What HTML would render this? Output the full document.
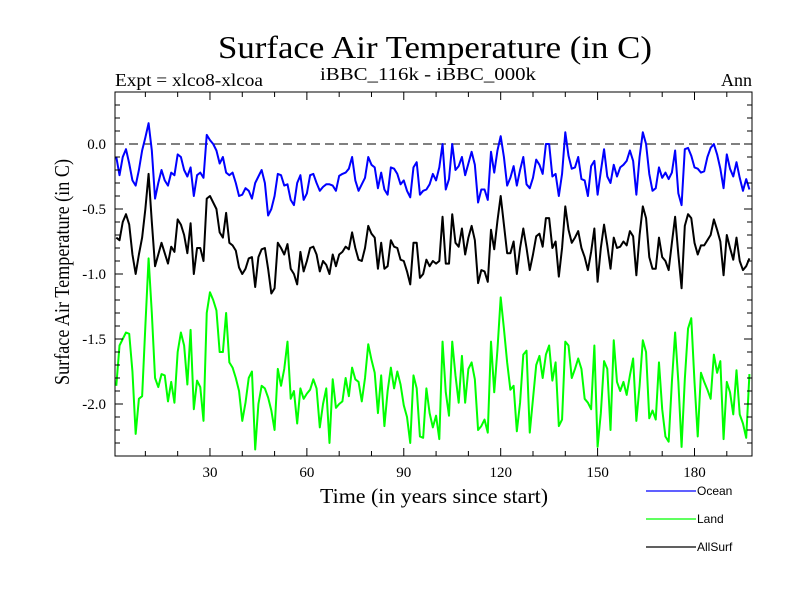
<!DOCTYPE html>
<html><head><meta charset="utf-8"><style>
html,body{margin:0;padding:0;background:#fff;}
svg{display:block;}
</style></head><body>
<svg id="chart" width="800" height="600" xmlns="http://www.w3.org/2000/svg" font-family="'Liberation Serif', serif">
<rect width="800" height="600" fill="#fff"/>
<text x="435" y="58" font-size="32" text-anchor="middle" textLength="434" lengthAdjust="spacingAndGlyphs">Surface Air Temperature (in C)</text>
<text x="115" y="86" font-size="18" textLength="148" lengthAdjust="spacingAndGlyphs">Expt = xlco8-xlcoa</text>
<text x="428" y="80" font-size="18" text-anchor="middle" textLength="216" lengthAdjust="spacingAndGlyphs">iBBC_116k - iBBC_000k</text>
<text x="752" y="86" font-size="18" text-anchor="end">Ann</text>
<text x="0" y="0" font-size="21" text-anchor="middle" transform="translate(69,272) rotate(-90)" textLength="226" lengthAdjust="spacingAndGlyphs">Surface Air Temperature (in C)</text>
<text x="434" y="503" font-size="21" text-anchor="middle" textLength="228" lengthAdjust="spacingAndGlyphs">Time (in years since start)</text>
<g id="plot"></g>
<g id="legend" font-family="'Liberation Sans', sans-serif" font-size="12"></g>
</svg>
<script>
const ocean = [-0.10,-0.24,-0.10,-0.04,-0.15,-0.28,-0.32,-0.2,-0.05,0.05,0.16,-0.05,-0.42,-0.3,-0.2,-0.28,-0.32,-0.22,-0.24,-0.08,-0.1,-0.2,-0.25,-0.18,-0.4,-0.24,-0.22,-0.26,0.07,0.03,0.0,-0.05,-0.15,
-0.1,-0.22,-0.24,-0.22,-0.3,-0.4,-0.39,-0.34,-0.36,-0.42,-0.3,-0.25,-0.2,-0.3,-0.55,-0.5,-0.4,-0.23,-0.24,-0.32,-0.31,-0.43,-0.47,-0.3,-0.24,-0.43,-0.38,-0.24,-0.23,-0.3,-0.36,-0.33,
-0.31,-0.31,-0.32,-0.36,-0.245,-0.23,-0.22,-0.19,-0.10,-0.28,-0.36,-0.31,-0.26,-0.10,-0.16,-0.18,-0.34,-0.22,-0.35,-0.39,-0.18,-0.19,-0.23,-0.31,-0.28,-0.36,-0.41,-0.18,-0.14,-0.39,-0.36,-0.35,
-0.31,-0.23,-0.28,-0.18,0.0,-0.35,-0.27,0.0,-0.2,-0.17,-0.1,-0.24,-0.15,-0.06,-0.16,-0.45,-0.35,-0.35,-0.43,-0.06,-0.22,-0.05,0.06,-0.1,-0.32,-0.26,-0.17,-0.32,-0.2,-0.1,-0.31,
-0.34,-0.26,-0.12,-0.16,-0.23,0.0,0.0,-0.25,-0.23,-0.4,-0.23,0.09,-0.09,-0.19,-0.18,-0.1,-0.27,-0.28,-0.4,-0.17,-0.13,-0.39,-0.21,-0.04,-0.25,-0.3,-0.16,-0.25,-0.18,-0.16,-0.13,-0.05,-0.13,-0.39,
-0.1,0.09,0.0,-0.23,-0.36,-0.34,-0.18,-0.26,-0.22,-0.27,-0.22,-0.05,-0.38,-0.47,-0.04,-0.03,-0.09,-0.18,-0.19,-0.22,-0.21,-0.1,-0.03,0.0,-0.08,-0.19,-0.34,-0.08,-0.19,-0.25,-0.14,-0.26,-0.36,-0.27,-0.35];
const land = [-1.86,-1.55,-1.5,-1.45,-1.46,-1.75,-2.23,-1.96,-1.94,-1.4,-0.88,-1.3,-1.8,-1.87,-1.77,-1.78,-1.98,-1.83,-1.99,-1.6,-1.45,-1.55,-1.85,-1.43,-2.04,-1.82,-1.87,-2.13,-1.3,-1.14,-1.2,-1.28,-1.6,
-1.6,-1.3,-1.68,-1.72,-1.8,-1.9,-2.13,-1.99,-1.8,-1.75,-2.35,-2.0,-1.86,-1.88,-1.95,-2.05,-2.2,-1.73,-1.86,-1.73,-1.52,-1.96,-1.9,-2.15,-1.88,-1.96,-1.92,-1.89,-1.81,-1.88,-2.18,-2.0,
-1.88,-2.3,-1.81,-2.03,-2.0,-1.98,-1.8,-1.94,-1.72,-1.81,-1.83,-1.98,-1.8,-1.54,-1.66,-1.76,-2.07,-1.78,-2.17,-1.9,-1.72,-1.88,-1.75,-1.85,-2.01,-2.1,-2.3,-1.78,-1.88,-2.25,-2.26,-1.88,
-2.07,-2.18,-2.09,-2.27,-1.52,-1.91,-2.09,-1.52,-1.78,-1.99,-1.63,-1.99,-1.73,-1.68,-1.81,-2.2,-2.17,-2.12,-2.22,-1.52,-1.91,-1.58,-1.18,-1.42,-1.68,-1.89,-1.86,-2.21,-1.99,-1.62,-1.59,
-2.22,-1.96,-1.7,-1.63,-1.8,-1.62,-1.55,-1.82,-1.68,-2.17,-2.12,-1.52,-1.55,-1.8,-1.73,-1.65,-1.73,-1.96,-1.99,-2.04,-1.55,-2.33,-2.07,-1.67,-1.73,-2.2,-1.51,-1.83,-1.9,-1.83,-1.93,-1.78,-1.65,-2.13,
-1.86,-1.51,-1.6,-2.11,-2.05,-2.12,-1.68,-2.04,-2.25,-2.29,-1.83,-1.45,-1.83,-2.33,-1.81,-1.42,-1.34,-1.83,-2.25,-1.76,-1.83,-1.89,-1.96,-1.62,-1.76,-1.67,-2.27,-1.83,-1.91,-2.08,-1.74,-2.08,-2.15,-2.26,-1.77];
const allsurf = [-0.72,-0.74,-0.6,-0.54,-0.62,-0.85,-1.0,-0.85,-0.72,-0.5,-0.23,-0.6,-0.94,-0.85,-0.76,-0.84,-0.92,-0.79,-0.83,-0.58,-0.62,-0.7,-0.84,-0.61,-1.0,-0.8,-0.8,-0.9,-0.42,-0.4,-0.45,-0.5,-0.68,
-0.72,-0.53,-0.76,-0.78,-0.82,-0.95,-1.0,-0.96,-0.88,-0.87,-1.1,-0.87,-0.81,-0.8,-0.96,-1.15,-1.11,-0.76,-0.8,-0.85,-0.77,-0.96,-1.0,-1.08,-0.83,-0.98,-0.9,-0.8,-0.79,-0.85,-0.98,-0.9,
-0.93,-1.0,-0.85,-0.94,-0.85,-0.83,-0.79,-0.81,-0.68,-0.8,-0.89,-0.9,-0.8,-0.63,-0.69,-0.72,-0.96,-0.76,-0.96,-0.94,-0.74,-0.79,-0.8,-0.89,-0.9,-0.98,-1.08,-0.76,-0.76,-1.03,-1.0,-0.89,
-0.94,-0.9,-0.92,-0.9,-0.56,-0.92,-0.92,-0.54,-0.76,-0.79,-0.65,-0.85,-0.72,-0.63,-0.74,-1.07,-0.97,-0.98,-1.06,-0.66,-0.81,-0.59,-0.4,-0.62,-0.84,-0.84,-0.75,-1.0,-0.8,-0.65,-0.8,
-0.97,-0.85,-0.71,-0.69,-0.79,-0.57,-0.57,-0.8,-0.75,-1.02,-0.8,-0.48,-0.66,-0.76,-0.72,-0.67,-0.8,-0.87,-0.97,-0.83,-0.65,-1.06,-0.8,-0.62,-0.78,-0.96,-0.72,-0.8,-0.79,-0.75,-0.78,-0.67,-0.71,-1.01,
-0.7,-0.48,-0.57,-0.87,-0.96,-0.96,-0.72,-0.87,-0.9,-0.97,-0.76,-0.56,-0.85,-1.11,-0.63,-0.54,-0.57,-0.76,-0.85,-0.78,-0.78,-0.74,-0.7,-0.58,-0.66,-0.75,-1.01,-0.7,-0.8,-0.89,-0.72,-0.9,-0.97,-0.94,-0.88];
const xTickLabels = [30,60,90,120,150,180];
const yTickLabels = ["0.0","-0.5","-1.0","-1.5","-2.0"];
const yTickValues = [0,-0.5,-1.0,-1.5,-2.0];
const seriesNames = ["Ocean","Land","AllSurf"];

const NS = "http://www.w3.org/2000/svg";
const L = 115, R = 752, T = 92, B = 456;
const X0 = 0.6, X1 = 197.8, Y0 = -2.4, Y1 = 0.4;
function xs(t){ return L + (t - X0) * (R - L) / (X1 - X0); }
function ys(v){ return B - (v - Y0) * (B - T) / (Y1 - Y0); }
function mk(tag, attrs, parent){ const e = document.createElementNS(NS, tag); for (const k in attrs) e.setAttribute(k, attrs[k]); parent.appendChild(e); return e; }
const plot = document.getElementById('plot');

// zero dashed line
const zl = mk('line', {x1:L, x2:R, y1:ys(0), y2:ys(0), stroke:'#000', 'stroke-width':1, 'stroke-dasharray':'9,5'}, plot);



function drawSeries(arr, color, name){
  let d = '';
  arr.forEach((v, i) => { d += (i ? 'L' : 'M') + xs(i + 1).toFixed(2) + ',' + ys(v).toFixed(2); });
  const p = mk('path', {d: d, fill:'none', stroke: color, 'stroke-width': 2, 'stroke-linejoin':'round'}, plot);
  
  
}
drawSeries(ocean, '#0000ff', 'ocean-line');
drawSeries(land, '#00ff00', 'land-line');
drawSeries(allsurf, '#000000', 'allsurf-line');

// frame
const fr = mk('rect', {x:L, y:T, width:R-L, height:B-T, fill:'none', stroke:'#000', 'stroke-width':1}, plot);



// x minor ticks every 10 years
for (let t = 10; t < X1; t += 10) {
  const major = (t % 30 === 0);
  const len = major ? 8 : 5;
  mk('line', {x1:xs(t), x2:xs(t), y1:B, y2:B-len, stroke:'#000', 'stroke-width':1}, plot);
  mk('line', {x1:xs(t), x2:xs(t), y1:T, y2:T+len, stroke:'#000', 'stroke-width':1}, plot);
}
xTickLabels.forEach(t => {
  const tx = mk('text', {x:xs(t), y:B+21, 'font-size':15, 'text-anchor':'middle'}, plot);
  tx.textContent = String(t);
  
  
});
// y minor ticks every 0.1
for (let k = -23; k <= 3; k++) {
  const v = k / 10;
  const major = (k % 5 === 0);
  const len = major ? 8 : 5;
  mk('line', {x1:L, x2:L+len, y1:ys(v), y2:ys(v), stroke:'#000', 'stroke-width':1}, plot);
  mk('line', {x1:R, x2:R-len, y1:ys(v), y2:ys(v), stroke:'#000', 'stroke-width':1}, plot);
}
yTickValues.forEach((v, i) => {
  const tx = mk('text', {x:L-9, y:ys(v)+5, 'font-size':15, 'text-anchor':'end'}, plot);
  tx.textContent = yTickLabels[i];
  
  
});

// legend
const lg = document.getElementById('legend');
const lgColors = ['#0000ff', '#00ff00', '#000000'];
seriesNames.forEach((n, i) => {
  const y = 491 + i * 28;
  const ln = mk('line', {x1:646, x2:696, y1:y, y2:y, stroke:lgColors[i], 'stroke-width':1.2}, lg);
  
  
  const tx = mk('text', {x:697, y:y+4}, lg);
  tx.textContent = n;
  
  
});
</script>
</body></html>
